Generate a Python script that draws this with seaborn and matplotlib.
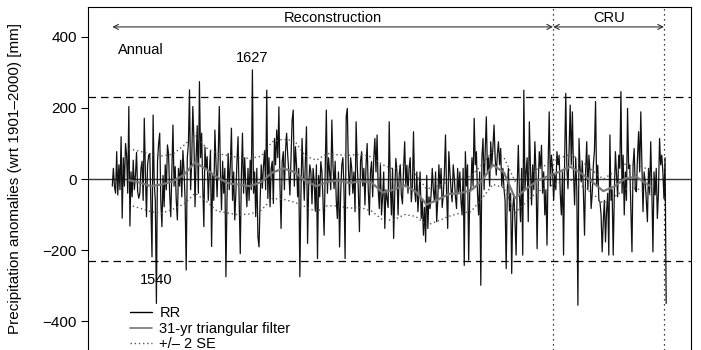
import numpy as np
import pandas as pd
import matplotlib
matplotlib.use("Agg")
import matplotlib.pyplot as plt
import seaborn as sns
from matplotlib.lines import Line2D

# ---------------- data ----------------
start_year = 1500
rr = [
    -20, 30, -22, -40, 77, -45, 40, -30, 119, -110,          # 1500
    60, -20, 100, 67, -40, 204, -132, 20, -50, 53,           # 1510
    -30, 10, 75, -35, -54, -40, 30, 50, -60, 171,            # 1520
    20, -106, 40, 67, 72, -80, -219, 180, -8, -60,           # 1530
    -350, 50, 100, 129, -64, -134, 10, -78, 40, -30,         # 1540
    96, 72, -40, -106, 20, 152, -20, 35, -60, -115,          # 1550
    30, -20, 53, -50, 80, 25, -60, -256, 60, 100,            # 1560
    251, -30, 53, 204, 110, -78, 60, 150, -40, 274,          # 1570
    60, 129, -20, -134, 90, 30, 63, -60, 20, 80,             # 1580
    -190, 10, -60, 138, 40, -50, 60, 204, 20, -87,           # 1590
    50, -40, 30, -275, -50, 72, -30, 40, 143, -60,           # 1600
    20, -115, -40, 50, 119, -60, -210, 10, 129, -40,         # 1610
    60, -20, -78, 30, -60, 53, -30, 307, -40, 20,            # 1620
    -106, 30, -163, -191, -60, 40, -26, 35, 80, -30,         # 1630
    250, -55, 60, -78, 30, 50, -69, 114, 40, 138,            # 1640
    60, 203, -20, -139, 50, 77, -30, 80, 129, 67,            # 1650
    20, -45, 60, 166, 194, -20, 91, 39, -50, 30,             # 1660
    -275, -40, 114, 20, -60, 50, 147, -181, -20, 40,         # 1670
    20, -70, 30, -8, -90, 40, -224, 10, -50, 49,             # 1680
    20, -60, -158, 30, 194, -40, 60, 20, -30, 166,           # 1690
    40, -27, 50, -60, -111, 20, -191, -40, 39, 60,           # 1700
    -30, -224, 175, 199, 30, -45, 60, 30, -40, 20,           # 1710
    -92, 161, 40, -30, -148, 50, 77, -20, 30, -73,           # 1720
    40, 100, -30, -101, 20, 49, -50, 60, 114, 20,            # 1730
    124, -30, -83, 40, -101, -50, 20, -139, -30, -55,        # 1740
    -80, 161, -20, -101, 30, -167, -40, 58, 20, -101,        # 1750
    10, 40, -45, -70, 30, 105, -20, 39, -40, 30,             # 1760
    60, -64, -20, 133, -30, -64, 20, -92, -40, 20,           # 1770
    -111, -60, -158, -80, -177, 10, -139, -50, -83, -40,     # 1780
    30, -30, -64, 20, -120, -60, 40, -27, 30, -80,           # 1790
    -45, 20, 124, -40, -139, 77, 20, -30, -64, 40,           # 1800
    2, -50, -83, 30, -40, 20, -60, -101, 30, -243,           # 1810
    77, -20, 40, -228, -30, -27, 60, -20, 171, 40,           # 1820
    77, -40, -101, 20, -299, 60, 114, -30, 80, 175,          # 1830
    20, 60, -20, 105, 40, 90, 152, 60, 11, 70,               # 1840
    105, 40, 86, -20, 30, -27, -60, -252, -30, 30,           # 1850
    -90, -40, -266, -80, -45, -120, -214, -20, 95, -40,      # 1860
    -120, 30, -214, 250, -30, 20, 60, -120, 161, 30,         # 1870
    -73, 40, -30, 105, 20, -196, -20, 77, 30, 95,            # 1880
    -40, 20, -101, -30, -186, 40, 189, -20, 67, 30,          # 1890
    -60, 11, -30, 77, 40, 67, -40, -101, 20, -214,           # 1900
    60, 241, 30, -27, 80, 208, 40, 189, 20, -73,             # 1910
    60, -30, -355, 114, 30, -8, 50, -40, -158, 20,           # 1920
    105, -30, 67, 20, -83, -40, 39, 80, 218, -20,            # 1930
    39, -60, -64, -100, -205, -120, -60, -177, -90, -40,     # 1940
    -214, 124, -60, -30, -214, -40, 77, 11, -50, 67,         # 1950
    30, 246, -40, 67, -101, 20, -60, 199, 30, 39,            # 1960
    -80, -205, 40, 86, -30, -36, 60, 133, 20, 189,           # 1970
    40, -92, 20, -8, -60, -120, 30, -40, 105, -30,           # 1980
    -205, 20, -45, 30, -111, -40, 114, 40, 67, 20,           # 1990
    -55, 60, -350,                                           # 2000
]
years = list(range(start_year, start_year + len(rr)))

smooth_years = [1515, 1525, 1535, 1545, 1555, 1565, 1575, 1585, 1595, 1605,
                1615, 1625, 1635, 1645, 1655, 1665, 1675, 1685, 1695, 1705,
                1715, 1725, 1735, 1745, 1755, 1765, 1775, 1785, 1795, 1805,
                1815, 1825, 1835, 1845, 1855, 1865, 1875, 1885, 1895, 1905,
                1915, 1925, 1935, 1945, 1955, 1965, 1975, 1988]
smooth = [-3, -10, -20, -15, -6, 12, 47, 28, 5, -12,
          -16, -20, -8, 18, 30, 20, -5, -20, -8, -4,
          -11, -6, -10, -38, -30, -18, -35, -72, -58, -42,
          -40, -32, -5, 40, 18, -54, -28, -5, 8, 20,
          35, 16, -8, -34, -21, 2, 6, -21]
se_upper = [85, 78, 70, 65, 70, 95, 124, 88, 72, 66,
            60, 58, 64, 105, 112, 108, 65, 53, 72, 68,
            67, 70, 62, 40, 28, 42, 12, -28, -20, -6,
            0, 8, 40, 80, 60, -6, 10, 28, 42, 58,
            70, 52, 24, 0, 20, 42, 40, 25]
se_lower = [-73, -82, -92, -96, -85, -70, -40, -62, -90, -96,
            -101, -98, -88, -55, -57, -65, -78, -92, -75, -76,
            -82, -80, -90, -115, -115, -100, -105, -130, -118, -105,
            -96, -92, -55, -15, -25, -95, -65, -36, -22, -10,
            -2, -18, -40, -68, -50, -28, -26, -45]

threshold = 232
cru_start, cru_end = 1899.5, 2000

# ---------------- figure ----------------
sns.set_theme(style="white")
plt.rcParams["font.family"] = ["Liberation Sans", "DejaVu Sans"]
plt.rcParams["text.color"] = "black"
plt.rcParams["axes.labelcolor"] = "black"
plt.rcParams["ytick.color"] = "black"

fig = plt.figure(figsize=(7.01, 3.5), dpi=100)
ax = fig.add_axes([88 / 701, 0.0, (691 - 88) / 701, 343 / 350])

df = pd.DataFrame({"year": years, "rr": rr})
sdf = pd.DataFrame({"year": smooth_years, "smooth": smooth,
                    "up": se_upper, "lo": se_lower})

ax.axhline(0, color="#333333", lw=1.0, zorder=1)
sns.lineplot(data=df, x="year", y="rr", ax=ax, color="#111111", lw=0.9,
             estimator=None, zorder=2)
sns.lineplot(data=sdf, x="year", y="smooth", ax=ax, color="#777777", lw=1.6,
             estimator=None, zorder=3)
sns.lineplot(data=sdf, x="year", y="up", ax=ax, color="#555555", lw=1.0,
             ls=(0, (1, 2)), estimator=None, zorder=3)
sns.lineplot(data=sdf, x="year", y="lo", ax=ax, color="#555555", lw=1.0,
             ls=(0, (1, 2)), estimator=None, zorder=3)

for t in (threshold, -threshold):
    ax.axhline(t, color="black", lw=0.9, ls=(0, (6, 4)), zorder=4)
for v in (cru_start, cru_end):
    ax.axvline(v, color="black", lw=0.9, ls=(0, (1, 3)), zorder=4)

ax.set_xlim(1478, 2024.5)
ax.set_ylim(-481, 484)

# period arrows
arrow_kw = dict(arrowstyle="<->", color="#333333", lw=0.8,
                mutation_scale=9, shrinkA=0, shrinkB=0)
ax.annotate("", xy=(1500, 428), xytext=(cru_start, 428), arrowprops=arrow_kw)
ax.annotate("", xy=(cru_start, 428), xytext=(cru_end, 428), arrowprops=arrow_kw)
ax.text(1700, 453, "Reconstruction", ha="center", va="center", fontsize=10.5)
ax.text(1950, 453, "CRU", ha="center", va="center", fontsize=10.5)

ax.text(1505, 363, "Annual", ha="left", va="center", fontsize=10.5)
ax.text(1627, 341, "1627", ha="center", va="center", fontsize=10.5)
ax.text(1540, -285, "1540", ha="center", va="center", fontsize=10.5)

ax.set_xlabel("")
ax.set_ylabel("Precipitation anomalies (wrt 1901\u20132000) [mm]", fontsize=11,
              labelpad=15)
ax.set_yticks([-400, -200, 0, 200, 400])
ax.set_xticks([])
ax.tick_params(axis="y", left=True, direction="out", length=5, width=0.8,
               labelsize=11, pad=3, colors="black")
for side in ("left", "top", "right"):
    ax.spines[side].set_visible(True)
    ax.spines[side].set_color("black")
    ax.spines[side].set_linewidth(0.8)
ax.spines["bottom"].set_visible(False)

handles = [
    Line2D([], [], color="black", lw=1.0),
    Line2D([], [], color="#777777", lw=1.2),
    Line2D([], [], color="#555555", lw=1.0, ls=(0, (1, 2))),
]
labels = ["RR", "31-yr triangular filter", "+/\u2013 2 SE"]
ax.legend(handles, labels, loc="upper left", bbox_to_anchor=(0.07, 0.127),
          frameon=False, fontsize=10.5, handlelength=1.5, handletextpad=0.5,
          labelspacing=0.08, borderpad=0, borderaxespad=0)

fig.savefig("out.png", dpi=100)
